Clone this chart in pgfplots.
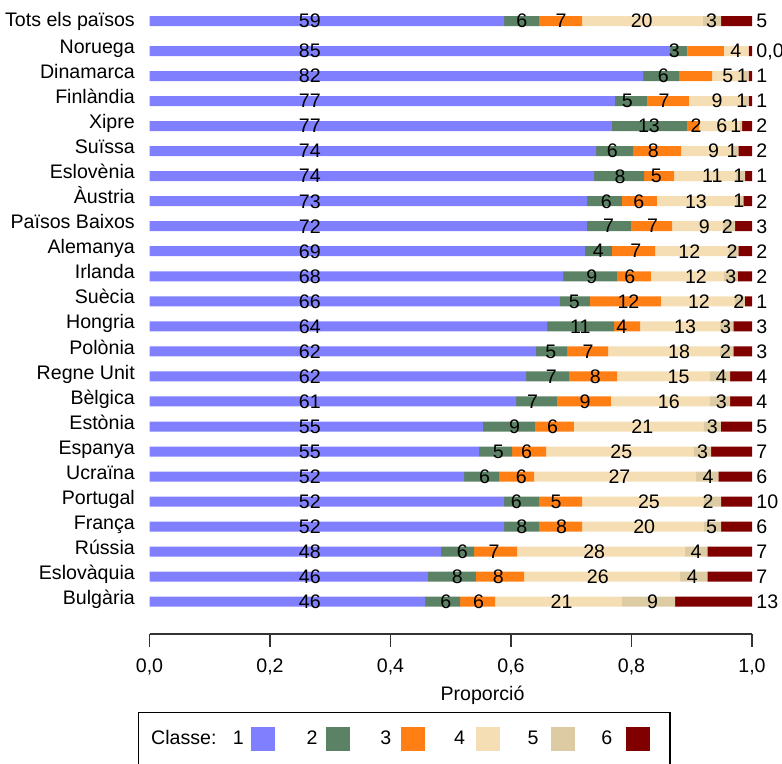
\documentclass[border=0pt]{standalone}
\usepackage{fontspec}
\setmainfont{Liberation Sans}
\usepackage{pgfplots}
\pgfplotsset{compat=1.18}
\usepackage{pgfplotstable}

\definecolor{c1}{HTML}{8080FF}
\definecolor{c2}{HTML}{5B8264}
\definecolor{c3}{HTML}{FF7F14}
\definecolor{c4}{HTML}{F5DEB3}
\definecolor{c5}{HTML}{DDCBA4}
\definecolor{c6}{HTML}{800000}

% shares of each class, one row per country (y = row position)
\pgfplotstableread{
y      b1     b2     b3     b4     b5     b6
-21    0.5884 0.0581 0.0714 0.2008 0.0299 0.0514
-51    0.8639 0.0287 0.0609 0.0410 0.0000 0.0055
-76    0.8191 0.0598 0.0548 0.0498 0.0110 0.0055
-101.1 0.7726 0.0531 0.0697 0.0880 0.0111 0.0055
-126.1 0.7676 0.1245 0.0207 0.0672 0.0034 0.0166
-151.1 0.7411 0.0614 0.0797 0.0841 0.0110 0.0227
-176.2 0.7378 0.0830 0.0498 0.1029 0.0149 0.0116
-201.2 0.7261 0.0581 0.0581 0.1311 0.0122 0.0144
-226.2 0.7261 0.0730 0.0685 0.0846 0.0196 0.0282
-251.2 0.7228 0.0448 0.0714 0.1217 0.0166 0.0227
-276.3 0.6863 0.0896 0.0564 0.1200 0.0240 0.0237
-301.3 0.6813 0.0498 0.1178 0.1228 0.0166 0.0117
-326.3 0.6598 0.1112 0.0432 0.1328 0.0220 0.0310
-351.4 0.6415 0.0515 0.0680 0.1859 0.0221 0.0310
-376.4 0.6249 0.0714 0.0797 0.1532 0.0343 0.0365
-401.4 0.6083 0.0680 0.0896 0.1632 0.0344 0.0365
-426.5 0.5535 0.0863 0.0647 0.2146 0.0294 0.0515
-451.5 0.5469 0.0548 0.0564 0.2445 0.0294 0.0680
-476.5 0.5220 0.0581 0.0581 0.2689 0.0370 0.0559
-501.5 0.5884 0.0581 0.0714 0.2013 0.0294 0.0514
-526.6 0.5884 0.0581 0.0714 0.2013 0.0294 0.0514
-551.6 0.4838 0.0548 0.0714 0.2788 0.0370 0.0742
-576.6 0.4622 0.0797 0.0797 0.2589 0.0453 0.0742
-601.7 0.4573 0.0581 0.0581 0.2108 0.0880 0.1277
}\bars

% numbers written on the bars
\pgfplotstableread{
x     y      lab
0.266 -21    59
0.618 -21    6
0.683 -21    7
0.817 -21    20
0.933 -21    3
0.266 -51    85
0.871 -51    3
0.973 -51    4
0.266 -76    82
0.853 -76    6
0.960 -76    5
0.984 -76    1
0.266 -101.1 77
0.793 -101.1 5
0.854 -101.1 7
0.942 -101.1 9
0.983 -101.1 1
0.266 -126.1 77
0.829 -126.1 13
0.907 -126.1 2
0.950 -126.1 6
0.973 -126.1 1
0.266 -151.1 74
0.768 -151.1 6
0.836 -151.1 8
0.936 -151.1 9
0.967 -151.1 1
0.266 -176.2 74
0.781 -176.2 8
0.841 -176.2 5
0.934 -176.2 11
0.978 -176.2 1
0.266 -201.2 73
0.758 -201.2 6
0.812 -201.2 6
0.907 -201.2 13
0.978 -201.2 1
0.266 -226.2 72
0.762 -226.2 7
0.835 -226.2 7
0.921 -226.2 9
0.959 -226.2 2
0.266 -251.2 69
0.745 -251.2 4
0.807 -251.2 7
0.896 -251.2 12
0.967 -251.2 2
0.266 -276.3 68
0.734 -276.3 9
0.797 -276.3 6
0.907 -276.3 12
0.965 -276.3 3
0.266 -301.3 66
0.705 -301.3 5
0.795 -301.3 12
0.912 -301.3 12
0.978 -301.3 2
0.266 -326.3 64
0.715 -326.3 11
0.784 -326.3 4
0.889 -326.3 13
0.956 -326.3 3
0.266 -351.4 62
0.666 -351.4 5
0.728 -351.4 7
0.879 -351.4 18
0.956 -351.4 2
0.266 -376.4 62
0.667 -376.4 7
0.740 -376.4 8
0.878 -376.4 15
0.949 -376.4 4
0.266 -401.4 61
0.636 -401.4 7
0.723 -401.4 9
0.862 -401.4 16
0.949 -401.4 3
0.266 -426.5 55
0.606 -426.5 9
0.669 -426.5 6
0.818 -426.5 21
0.934 -426.5 3
0.266 -451.5 55
0.579 -451.5 5
0.626 -451.5 6
0.783 -451.5 25
0.918 -451.5 3
0.266 -476.5 52
0.556 -476.5 6
0.617 -476.5 6
0.780 -476.5 27
0.927 -476.5 4
0.266 -501.5 52
0.609 -501.5 6
0.675 -501.5 5
0.829 -501.5 25
0.927 -501.5 2
0.266 -526.6 52
0.618 -526.6 8
0.684 -526.6 8
0.821 -526.6 20
0.933 -526.6 5
0.266 -551.6 48
0.519 -551.6 6
0.572 -551.6 7
0.738 -551.6 28
0.907 -551.6 4
0.266 -576.6 46
0.511 -576.6 8
0.579 -576.6 8
0.744 -576.6 26
0.901 -576.6 4
0.266 -601.7 46
0.492 -601.7 6
0.546 -601.7 6
0.684 -601.7 21
0.835 -601.7 9
}\inlab

% class 6 numbers at the right end
\pgfplotstableread{
x     y      lab
1.007 -21    5
1.007 -51    0,0
1.007 -76    1
1.007 -101.1 1
1.007 -126.1 2
1.007 -151.1 2
1.007 -176.2 1
1.007 -201.2 2
1.007 -226.2 3
1.007 -251.2 2
1.007 -276.3 2
1.007 -301.3 1
1.007 -326.3 3
1.007 -351.4 3
1.007 -376.4 4
1.007 -401.4 4
1.007 -426.5 5
1.007 -451.5 7
1.007 -476.5 6
1.007 -501.5 10
1.007 -526.6 6
1.007 -551.6 7
1.007 -576.6 7
1.007 -601.7 13
}\rlab

\pgfplotsset{
  base/.style={
    scale only axis, width=602.5bp, height=634bp,
    at={(149.5bp,0bp)}, anchor=north west,
    xmin=0, xmax=1, ymin=-634, ymax=0,
    enlargelimits=false, clip=false,
  }
}

\begin{document}
\fontsize{19.6bp}{23bp}\selectfont
\begin{tikzpicture}
\path[use as bounding box] (0,0) rectangle (782bp,-764bp);

\begin{axis}[base,
    xbar stacked, bar width=10bp,
    axis x line*=bottom, axis y line*=left,
    x axis line style={-, draw=black!80, line width=1.3bp},
    y axis line style={draw=none},
    xtick={0,0.2,0.4,0.6,0.8,1},
    xticklabels={{0,0},{0,2},{0,4},{0,6},{0,8},{1,0}},
    tick align=outside, major tick length=12.5bp,
    x tick style={draw=black!80, line width=1.3bp},
    y tick style={draw=none},
    xticklabel style={anchor=base, inner sep=0pt, yshift=-26bp},
    ytick={-26.7,-53.6,-78.6,-103.7,-128.7,-153.7,-178.8,-203.8,-228.8,-253.8,-278.9,-303.9,-328.9,-354.0,-379.0,-404.0,-429.1,-454.1,-479.1,-504.1,-529.2,-554.2,-579.2,-604.3},
    yticklabels={Tots els països,Noruega,Dinamarca,Finlàndia,Xipre,Suïssa,Eslovènia,Àustria,Països Baixos,Alemanya,Irlanda,Suècia,Hongria,Polònia,Regne Unit,Bèlgica,Estònia,Espanya,Ucraïna,Portugal,França,Rússia,Eslovàquia,Bulgària},
    yticklabel style={anchor=base east, inner sep=0pt, xshift=-2bp},
    xlabel={Proporció},
    xlabel style={at={(axis description cs:0.5527,-0.1041)}, anchor=base, inner sep=0pt},
  ]
  \addplot[fill=c1, draw=none] table[x=b1, y=y] {\bars};
  \addplot[fill=c2, draw=none] table[x=b2, y=y] {\bars};
  \addplot[fill=c3, draw=none] table[x=b3, y=y] {\bars};
  \addplot[fill=c4, draw=none] table[x=b4, y=y] {\bars};
  \addplot[fill=c5, draw=none] table[x=b5, y=y] {\bars};
  \addplot[fill=c6, draw=none] table[x=b6, y=y] {\bars};
\end{axis}

\begin{axis}[base, hide axis]
  \addplot[draw=none, mark=none, nodes near coords, point meta=explicit symbolic,
    every node near coord/.style={anchor=center, inner sep=0pt, text depth=0pt, text=black}]
    table[x=x, y=y, meta=lab] {\inlab};
  \addplot[draw=none, mark=none, nodes near coords, point meta=explicit symbolic,
    every node near coord/.style={anchor=west, inner sep=0pt, text depth=0pt, text=black}]
    table[x=x, y=y, meta=lab] {\rlab};
\end{axis}

% legend
\draw[line width=1.3bp] (138.3bp,-712.7bp) rectangle (670bp,-800bp);
\node[anchor=base west, inner sep=0pt] at (151bp,-744bp) {Classe:};
\foreach \i/\c/\n in {0/c1/1,1/c2/2,2/c3/3,3/c4/4,4/c5/5,5/c6/6}{
  \fill[\c] ({251bp+75bp*\i},-726.7bp) rectangle ++(24bp,-24bp);
  \node[anchor=base east, inner sep=0pt] at ({244bp+73.7bp*\i},-744bp) {\n};
}
\end{tikzpicture}
\end{document}
